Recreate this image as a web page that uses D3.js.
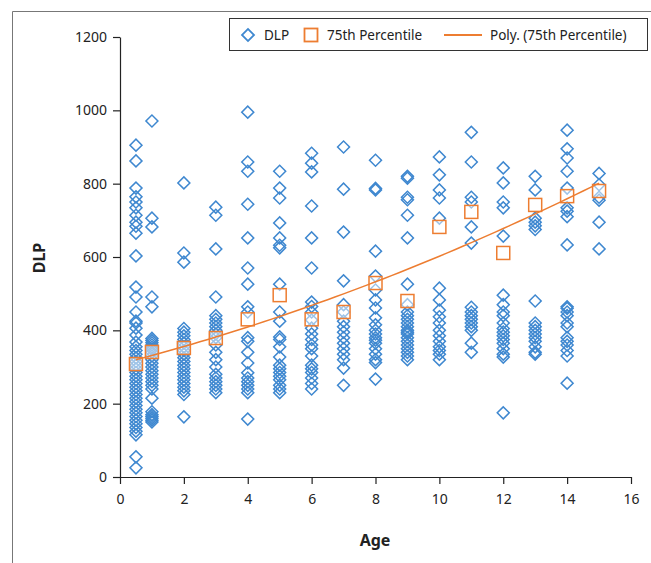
<!DOCTYPE html>
<html>
<head>
<meta charset="utf-8">
<script src="https://cdn.jsdelivr.net/npm/d3@7"></script>
<style>
  body { margin: 0; background: #fff; }
  text { font-family: "Noto Sans", "Open Sans", sans-serif; fill: #222; }
</style>
</head>
<body>
<svg id="chart" width="651" height="563"></svg>
<script>
// ages where DLP was recorded
const dlpAges = [0.5, 1, 2, 3, 4, 5, 6, 7, 8, 9, 10, 11, 12, 13, 14, 15];
// DLP values per age
const dlpValues = [
  [905, 862, 788, 764, 750, 734, 714, 695, 684, 665, 603, 518, 491, 450, 425, 420, 406, 387, 368,
   355, 345, 335, 325, 315, 305, 295, 285, 275, 265, 255, 245, 235, 225, 215, 205, 195, 185, 175,
   165, 155, 145, 135, 125, 115, 55, 25],
  [971, 706, 682, 491, 464, 378, 372, 366, 360, 354, 348, 340, 330, 320, 310, 300, 290, 280, 270,
   260, 250, 240, 215, 178, 170, 165, 160, 155, 150],
  [802, 611, 586, 405, 395, 385, 375, 365, 355, 345, 335, 325, 315, 305, 295, 285, 275, 265, 255,
   245, 235, 225, 164],
  [736, 714, 622, 491, 440, 430, 420, 410, 400, 390, 380, 360, 340, 320, 300, 280, 270, 260, 250,
   240, 230],
  [995, 859, 834, 744, 652, 570, 526, 464, 450, 380, 370, 340, 311, 284, 270, 260, 250, 240, 230, 158],
  [834, 788, 761, 693, 652, 632, 625, 526, 450, 425, 382, 375, 355, 327, 305, 295, 285, 275, 265,
   250, 240, 230],
  [883, 856, 832, 739, 652, 570, 477, 465, 450, 428, 406, 390, 375, 360, 350, 330, 305, 295, 285,
   270, 255, 240],
  [900, 785, 668, 535, 470, 450, 425, 410, 395, 380, 365, 350, 335, 320, 297, 250],
  [864, 787, 783, 616, 548, 510, 483, 461, 434, 415, 400, 390, 380, 373, 365, 350, 335, 320, 312, 267],
  [820, 815, 763, 756, 714, 652, 526, 470, 450, 440, 430, 420, 410, 400, 395, 390, 380, 370, 360,
   350, 340, 330, 320],
  [873, 824, 783, 761, 706, 515, 483, 455, 437, 420, 400, 385, 370, 355, 345, 335, 320],
  [940, 859, 763, 750, 682, 638, 463, 450, 440, 430, 420, 410, 400, 365, 340],
  [843, 802, 750, 734, 657, 496, 470, 450, 440, 420, 405, 395, 385, 375, 365, 350, 335, 327, 175],
  [820, 783, 706, 695, 685, 675, 480, 420, 410, 400, 390, 380, 370, 355, 340, 335],
  [946, 895, 870, 834, 788, 734, 725, 710, 633, 464, 460, 450, 440, 420, 410, 380, 370, 360, 345,
   330, 256],
  [828, 797, 763, 755, 695, 622]
];

// 75th percentile per age
const p75Ages = [0.5, 1, 2, 3, 4, 5, 6, 7, 8, 9, 10, 11, 12, 13, 14, 15];
const p75Values = [308, 341, 352, 379, 430, 496, 430, 450, 529, 480, 682, 723, 611, 742, 766, 780];

const xTicks = [0, 2, 4, 6, 8, 10, 12, 14, 16];
const yTicks = [0, 200, 400, 600, 800, 1000, 1200];
const legendLabels = ["DLP", "75th Percentile", "Poly. (75th Percentile)"];

const blue = "#3f88d0";
const orange = "#ed7d31";

const svg = d3.select("#chart");

const x = d3.scaleLinear().domain([0, 16]).range([120, 631]);
const y = d3.scaleLinear().domain([0, 1200]).range([477, 37]);

// outer frame (only top and left edges are visible)
svg.append("path")
  .attr("d", "M12.5,563 V11.5 H651")
  .attr("fill", "none")
  .attr("stroke", "#777")
  .attr("stroke-width", 1);

// axes
const xAxis = svg.append("g")
  .attr("transform", `translate(0,${y(0)})`)
  .call(d3.axisBottom(x).tickValues(xTicks).tickFormat(d3.format("d"))
    .tickSize(7).tickSizeOuter(0).tickPadding(10));
const yAxis = svg.append("g")
  .attr("transform", `translate(${x(0)},0)`)
  .call(d3.axisLeft(y).tickValues(yTicks).tickFormat(d3.format("d"))
    .tickSize(7).tickSizeOuter(0).tickPadding(6));

[xAxis, yAxis].forEach(g => {
  g.select(".domain").attr("stroke", "#222").attr("stroke-width", 1.2);
  g.selectAll(".tick line").attr("stroke", "#222").attr("stroke-width", 1.2);
  g.selectAll(".tick text").style("font-size", "14px").attr("fill", "#222");
});

// axis titles
svg.append("text")
  .attr("x", 375).attr("y", 546)
  .attr("text-anchor", "middle")
  .style("font-size", "16px").style("font-weight", "bold")
  .text("Age");
svg.append("text")
  .attr("transform", "translate(45,258) rotate(-90)")
  .attr("text-anchor", "middle")
  .style("font-size", "16px").style("font-weight", "bold")
  .text("DLP");

// DLP diamonds
const dlpPoints = [];
dlpAges.forEach((a, i) => dlpValues[i].forEach(v => dlpPoints.push({ age: a, dlp: v })));

const diamond = d3.symbol().type(d3.symbolSquare).size(72);
svg.append("g")
  .selectAll("path")
  .data(dlpPoints)
  .join("path")
  .attr("d", diamond)
  .attr("transform", d => `translate(${x(d.age)},${y(d.dlp)}) rotate(45)`)
  .attr("fill", "none")
  .attr("stroke", blue)
  .attr("stroke-width", 1.5);

// polynomial (order 2) least squares fit of the 75th percentile, like Excel's trendline
function polyFit(xs, ys) {
  const n = xs.length;
  let s = [0, 0, 0, 0, 0], t = [0, 0, 0];
  for (let i = 0; i < n; i++) {
    for (let k = 0; k < 5; k++) s[k] += Math.pow(xs[i], k);
    for (let k = 0; k < 3; k++) t[k] += ys[i] * Math.pow(xs[i], k);
  }
  const m = [[s[0], s[1], s[2], t[0]], [s[1], s[2], s[3], t[1]], [s[2], s[3], s[4], t[2]]];
  for (let c = 0; c < 3; c++) {
    for (let r = c + 1; r < 3; r++) {
      const f = m[r][c] / m[c][c];
      for (let k = c; k < 4; k++) m[r][k] -= f * m[c][k];
    }
  }
  const b = [0, 0, 0];
  for (let r = 2; r >= 0; r--) {
    let sum = m[r][3];
    for (let k = r + 1; k < 3; k++) sum -= m[r][k] * b[k];
    b[r] = sum / m[r][r];
  }
  return xv => b[0] + b[1] * xv + b[2] * xv * xv;
}
const fit = polyFit(p75Ages, p75Values);
const fitX = d3.range(0.5, 15.01, 0.25);

// percentile squares
svg.append("g")
  .selectAll("rect")
  .data(p75Ages.map((a, i) => ({ age: a, v: p75Values[i] })))
  .join("rect")
  .attr("x", d => x(d.age) - 6.5)
  .attr("y", d => y(d.v) - 6.5)
  .attr("width", 13)
  .attr("height", 13)
  .attr("fill", "#fff")
  .attr("fill-opacity", 0.5)
  .attr("stroke", orange)
  .attr("stroke-width", 1.5);

svg.append("path")
  .datum(fitX)
  .attr("d", d3.line().x(d => x(d)).y(d => y(fit(d))))
  .attr("fill", "none")
  .attr("stroke", orange)
  .attr("stroke-width", 1.5);

// legend
const lg = svg.append("g");
lg.append("rect")
  .attr("x", 229.5).attr("y", 18.5).attr("width", 418).attr("height", 32)
  .attr("fill", "#fff").attr("stroke", "#333").attr("stroke-width", 1);
lg.append("path")
  .attr("d", diamond)
  .attr("transform", "translate(248,35) rotate(45)")
  .attr("fill", "none").attr("stroke", blue).attr("stroke-width", 1.8);
lg.append("text").attr("x", 264).attr("y", 40).style("font-size", "13.5px").text(legendLabels[0]);
lg.append("rect")
  .attr("x", 304.5).attr("y", 28.5).attr("width", 13).attr("height", 13)
  .attr("fill", "none").attr("stroke", orange).attr("stroke-width", 1.8);
lg.append("text").attr("x", 327).attr("y", 40).style("font-size", "13.5px").text(legendLabels[1]);
lg.append("line")
  .attr("x1", 444).attr("x2", 482).attr("y1", 35).attr("y2", 35)
  .attr("stroke", orange).attr("stroke-width", 1.8);
lg.append("text").attr("x", 490).attr("y", 40).style("font-size", "13.5px").text(legendLabels[2]);
</script>
</body>
</html>
